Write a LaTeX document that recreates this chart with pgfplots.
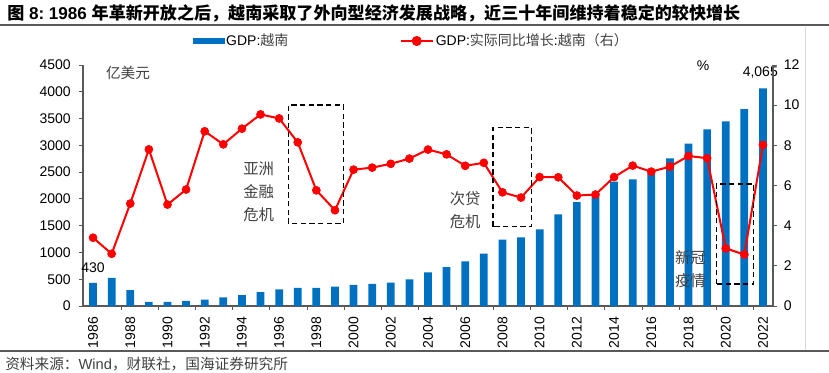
\documentclass[border=0pt]{standalone}
\usepackage{fontspec}
\setmainfont{Liberation Sans}
\newfontfamily\cjk{Noto Sans CJK SC}
\usepackage{pgfplots}
\usepackage{pgfplotstable}
\pgfplotsset{compat=1.18}
\definecolor{barblue}{HTML}{0070C0}
\definecolor{axgray}{HTML}{595959}
\definecolor{txtgray}{HTML}{404040}

\pgfplotstableread{
year gdp growth
1986 430 3.40
1987 525 2.60
1988 295 5.10
1989 75 7.80
1990 75 5.05
1991 95 5.80
1992 118 8.70
1993 162 8.05
1994 205 8.83
1995 261 9.54
1996 311 9.34
1997 340 8.15
1998 340 5.76
1999 362 4.77
2000 395 6.79
2001 411 6.89
2002 436 7.08
2003 498 7.34
2004 628 7.79
2005 728 7.55
2006 834 6.98
2007 977 7.13
2008 1238 5.66
2009 1282 5.40
2010 1431 6.42
2011 1711 6.41
2012 1941 5.50
2013 2060 5.55
2014 2321 6.42
2015 2365 6.99
2016 2508 6.69
2017 2757 6.94
2018 3030 7.47
2019 3298 7.36
2020 3447 2.87
2021 3678 2.56
2022 4065 8.02
}\datatable

\begin{document}
\begin{tikzpicture}
\path[use as bounding box] (0,0) rectangle (621.75pt,-279pt);
\begin{scope}[x=0.75pt,y=-0.75pt]
 \draw[axgray, line width=1.1pt] (0,25) -- (829,25);
 \draw[axgray, line width=0.8pt] (0,351) -- (829,351);
 \draw[black!15, line width=0.6pt] (805,27) -- (805,350);
 \node[anchor=west, inner sep=0pt, font=\bfseries\fontsize{12.8}{14}\selectfont] at (7,13) {{\cjk 图} 8:~1986~{\cjk 年革新开放之后，越南采取了外向型经济发展战略，近三十年间维持着稳定的较快增长}};
 \node[anchor=west, inner sep=0pt, font=\fontsize{11}{12}\selectfont, text=txtgray] at (5,364) {{\cjk 资料来源：}Wind{\cjk ，财联社，国海证券研究所}};
 \node[font=\cjk\fontsize{11}{12}\selectfont, text=txtgray] at (128,73) {亿美元};
 \node[font=\fontsize{10.5}{12}\selectfont] at (703,66) {\%};
\end{scope}

\begin{axis}[
 at={(62.25pt,-229.5pt)}, anchor=south west,
 scale only axis, width=517.5pt, height=180.75pt,
 xmin=1985.46, xmax=2022.54, ymin=0, ymax=4500,
 axis x line*=bottom, axis y line*=left,
 axis line style={axgray, line width=0.8pt, -},
 ytick={0,500,...,4500},
 xtick={1987.5,1989.5,...,2021.5},
 xticklabels={},
 extra x ticks={1986,1988,...,2022},
 extra x tick style={major tick length=0pt},
 tick align=outside,
 major tick length=3pt,
 tick style={axgray, line width=0.6pt},
 ticklabel style={font=\fontsize{10.5}{12}\selectfont},
 xticklabel style={yshift=-8pt, rotate=90, anchor=east, inner sep=0pt},
 yticklabel style={inner sep=0pt, xshift=-6pt},
 /pgf/number format/set thousands separator={},
 /pgf/number format/assume math mode=true,
 clip=false,
]
\addplot[ybar, bar width=5.8pt, fill=barblue, draw=none] table[x=year,y=gdp] {\datatable};
\node[anchor=south, inner sep=0pt, yshift=7.5pt, font=\fontsize{10.5}{12}\selectfont] at (axis cs:1986,430) {430};
\node[anchor=south, inner sep=0pt, yshift=7.5pt, xshift=-2pt, font=\fontsize{10.5}{12}\selectfont] at (axis cs:2022,4065) {4,065};
\end{axis}

\begin{axis}[
 at={(62.25pt,-229.5pt)}, anchor=south west,
 scale only axis, width=517.5pt, height=180.75pt,
 xmin=1985.46, xmax=2022.54, ymin=0, ymax=12,
 axis x line=none, axis y line*=right,
 axis line style={axgray, line width=0.8pt, -},
 ytick={0,2,...,12},
 tick align=outside,
 major tick length=3pt,
 tick style={axgray, line width=0.6pt},
 ticklabel style={font=\fontsize{10.5}{12}\selectfont},
 yticklabel style={inner sep=0pt, xshift=5pt},
 /pgf/number format/assume math mode=true,
 clip=false,
 legend columns=2,
 legend style={at={(0.476,1.0996)}, anchor=center, draw=none, fill=none,
   font=\fontsize{10.5}{12}\selectfont, inner sep=0pt,
   nodes={inner sep=1.5pt},
   /tikz/every even column/.append style={column sep=82pt}},
]
\addlegendimage{legend image code/.code={\fill[barblue] (0pt,-1.9pt) rectangle (23pt,1.9pt);}}
\addlegendentry{GDP:{\cjk\color{txtgray}越南}}
\addplot[red, line width=1.5pt, mark=*, mark size=3pt, mark options={fill=red, draw=red, line width=0.5pt},
  legend image code/.code={\draw[red, line width=1.5pt] (0pt,0pt) -- (24pt,0pt); \fill[red] (12pt,0pt) circle (3pt);}]
  table[x=year,y=growth] {\datatable};
\addlegendentry{GDP:{\cjk\color{txtgray}实际同比增长}:{\cjk\color{txtgray}越南（右）}}

\draw[black, line width=1.1pt, dash pattern=on 4pt off 2.5pt] (axis cs:1996.5,4.1) rectangle (axis cs:1999.45,10.0);
\draw[black, line width=1.1pt, dash pattern=on 4pt off 2.5pt] (axis cs:2007.5,3.95) rectangle (axis cs:2009.55,8.9);
\draw[black, line width=1.1pt, dash pattern=on 4pt off 2.5pt] (axis cs:2019.5,1.1) rectangle (axis cs:2021.5,6.08);

\node[align=center, text=txtgray, font=\cjk\fontsize{11.5}{17.5}\selectfont] at (axis cs:1994.9,5.68) {亚洲\\金融\\危机};
\node[align=center, text=txtgray, font=\cjk\fontsize{11.5}{17.5}\selectfont] at (axis cs:2006.0,4.78) {次贷\\危机};
\node[align=center, text=txtgray, font=\cjk\fontsize{11.5}{17}\selectfont] at (axis cs:2018.1,1.84) {新冠\\疫情};
\end{axis}
\end{tikzpicture}
\end{document}
